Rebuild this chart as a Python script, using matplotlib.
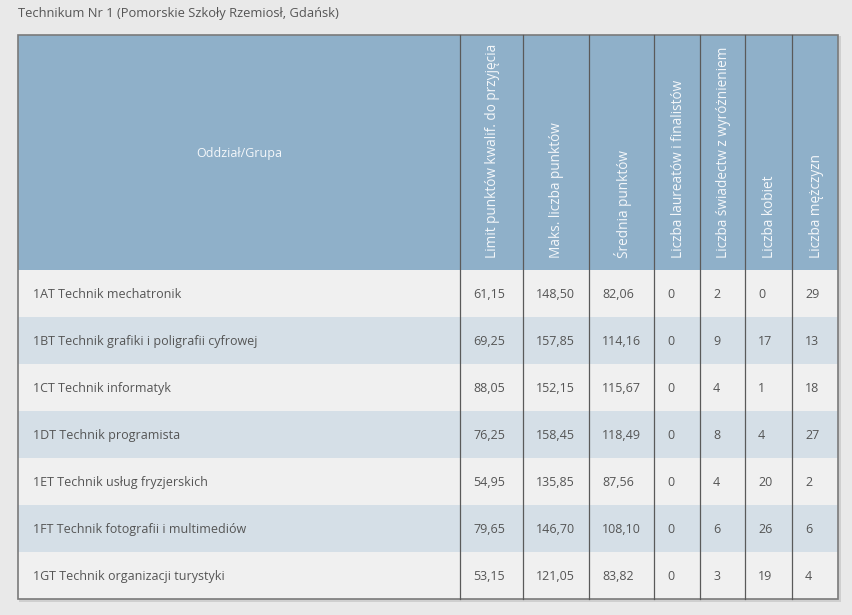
import matplotlib.pyplot as plt
from matplotlib.patches import Rectangle

title = 'Technikum Nr 1 (Pomorskie Szkoły Rzemiosł, Gdańsk)'
headers = ['Oddział/Grupa', 'Limit punktów kwalif. do przyjęcia', 'Maks. liczba punktów',
           'Średnia punktów', 'Liczba laureatów i finalistów', 'Liczba świadectw z wyróżnieniem',
           'Liczba kobiet', 'Liczba mężczyzn']
groups = ['1AT Technik mechatronik', '1BT Technik grafiki i poligrafii cyfrowej',
          '1CT Technik informatyk', '1DT Technik programista',
          '1ET Technik usług fryzjerskich', '1FT Technik fotografii i multimediów',
          '1GT Technik organizacji turystyki']
limit_pts = ['61,15', '69,25', '88,05', '76,25', '54,95', '79,65', '53,15']
max_pts = ['148,50', '157,85', '152,15', '158,45', '135,85', '146,70', '121,05']
avg_pts = ['82,06', '114,16', '115,67', '118,49', '87,56', '108,10', '83,82']
laureates = [0, 0, 0, 0, 0, 0, 0]
honours = [2, 9, 4, 8, 4, 6, 3]
women = [0, 17, 1, 4, 20, 26, 19]
men = [29, 13, 18, 27, 2, 6, 4]

plt.rcParams['font.family'] = ['Open Sans', 'DejaVu Sans']

# column edges in pixels
col_x = [18, 460, 523, 589, 654, 700, 745, 792, 838]
top, head_bot, row_h = 35, 270, 47

bg = '#e9e9e9'
head_c = '#8fb0c9'
row_c = ['#f0f0f0', '#d5dfe7']
txt_c = '#555555'
line_c = '#5a5a5a'

fig = plt.figure(figsize=(8.52, 6.15), dpi=100, facecolor=bg)
ax = fig.add_axes([0, 0, 1, 1])
ax.set_xlim(0, 852)
ax.set_ylim(615, 0)
ax.axis('off')

ax.text(18, 14, title, fontsize=9.3, color=txt_c, va='center', ha='left')

n = len(groups)
bottom = head_bot + row_h * n

# shadow
ax.add_patch(Rectangle((col_x[0] + 1, top + 1), col_x[-1] - col_x[0] + 2, bottom - top + 2,
                       facecolor='#cfcfcf', edgecolor='none'))
# header
ax.add_patch(Rectangle((col_x[0], top), col_x[-1] - col_x[0], head_bot - top,
                       facecolor=head_c, edgecolor='none'))
ax.text((col_x[0] + col_x[1]) / 2, 153, headers[0], fontsize=9, color='#f4f7fa',
        ha='center', va='center')
for j in range(1, len(headers)):
    cx = (col_x[j] + col_x[j + 1]) / 2 + 1
    ax.text(cx, 258, headers[j], fontsize=9.8, color='#f4f7fa', rotation=90,
            ha='center', va='bottom')

cols = [limit_pts, max_pts, avg_pts, laureates, honours, women, men]
for i in range(n):
    y0 = head_bot + i * row_h
    ax.add_patch(Rectangle((col_x[0], y0), col_x[-1] - col_x[0], row_h,
                           facecolor=row_c[i % 2], edgecolor='none'))
    yc = y0 + row_h / 2 + 1
    ax.text(col_x[0] + 15, yc, groups[i], fontsize=9, color=txt_c, ha='left', va='center')
    for j, col in enumerate(cols):
        ax.text(col_x[j + 1] + 13, yc, str(col[i]), fontsize=9, color=txt_c,
                ha='left', va='center')

# grid lines
for x in col_x[1:-1]:
    ax.plot([x, x], [top, bottom], color=line_c, lw=0.9)
ax.add_patch(Rectangle((col_x[0], top), col_x[-1] - col_x[0], bottom - top,
                       facecolor='none', edgecolor='#7a7a7a', lw=1.2))

fig.savefig('out.png', dpi=100, facecolor=bg)
